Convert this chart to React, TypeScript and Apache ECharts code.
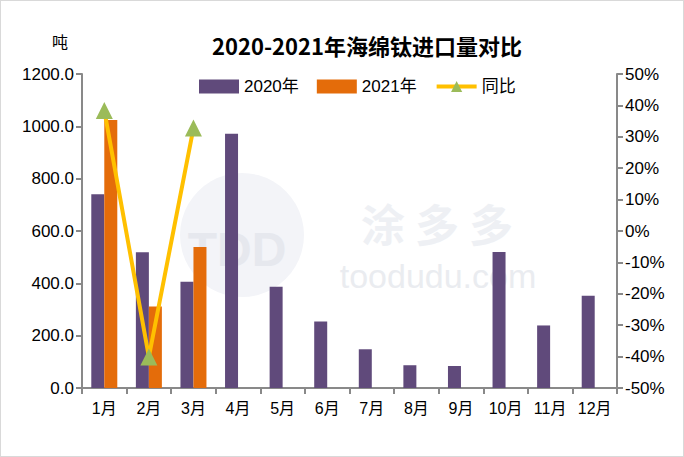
import React, { useEffect, useRef } from "react";
import * as echarts from "echarts";

const categories = ["1月", "2月", "3月", "4月", "5月", "6月", "7月", "8月", "9月", "10月", "11月", "12月"];
const values2020 = [740, 519, 406, 972, 387, 254, 148, 87, 84, 520, 239, 353];
const values2021: (number | null)[] = [1024, 311, 539, null, null, null, null, null, null, null, null, null];
const yoy: (number | null)[] = [38.4, -40.1, 32.8, null, null, null, null, null, null, null, null, null];
const leftTicks = { min: 0, max: 1200, interval: 200 };
const rightTicks = { min: -50, max: 50, interval: 10 };

const FONT = "'Liberation Sans Narrow', 'Liberation Sans', 'Noto Sans CJK SC', sans-serif";

export default function App() {
  const ref = useRef<HTMLDivElement>(null);
  useEffect(() => {
    document.body.style.margin = "0";
    const chart = echarts.init(ref.current!, null, { renderer: "svg" });
    const axisLine = { show: true, lineStyle: { color: "#898989", width: 2 } };
    chart.setOption({
      animation: false,
      backgroundColor: "#ffffff",
      textStyle: { fontFamily: FONT },
      graphic: [
        { type: "circle", z: -10, shape: { cx: 241, cy: 234, r: 62 }, style: { fill: "#f3f4f8" } },
        { type: "text", z: -9, x: 236, y: 248, style: { text: "TDD", fill: "#e6e8ee", font: "bold 48px 'Liberation Sans', sans-serif", textAlign: "center", textVerticalAlign: "middle" } },
        { type: "text", z: -9, x: 436, y: 222, style: { text: "涂 多 多", fill: "#eef0f4", font: "bold 44px 'Noto Sans CJK SC', sans-serif", textAlign: "center", textVerticalAlign: "middle" } },
        { type: "text", z: -9, x: 437, y: 275, style: { text: "toodudu.com", fill: "#eaecf0", font: "34px 'Liberation Sans', sans-serif", textAlign: "center", textVerticalAlign: "middle" } },
        { type: "text", x: 366, y: 44, style: { text: "2020-2021年海绵钛进口量对比", fill: "#000", font: "bold 22px 'Noto Sans CJK SC', sans-serif", textAlign: "center", textVerticalAlign: "middle" } },
        { type: "text", x: 59, y: 40, style: { text: "吨", fill: "#000", font: "16px 'Noto Sans CJK SC', sans-serif", textAlign: "center", textVerticalAlign: "middle" } },
      ],
      legend: {
        top: 72,
        left: 193,
        itemWidth: 40,
        itemHeight: 14,
        itemGap: 18,
        textStyle: { fontSize: 17, color: "#000", fontFamily: FONT },
        data: [
          { name: "2020年", icon: "rect" },
          { name: "2021年", icon: "rect" },
          { name: "同比", lineStyle: { width: 4, color: "#FFC000" } },
        ],
      },
      grid: { left: 81, right: 66, top: 73, bottom: 68, containLabel: false },
      xAxis: {
        type: "category",
        data: categories,
        axisLine,
        axisTick: { show: true, length: 6, lineStyle: { color: "#898989", width: 2 } },
        axisLabel: { fontSize: 16, color: "#000", margin: 12, fontFamily: FONT },
      },
      yAxis: [
        {
          type: "value",
          ...leftTicks,
          axisLine,
          axisTick: { show: true, length: 6, lineStyle: { color: "#898989", width: 2 } },
          splitLine: { show: false },
          axisLabel: { fontSize: 17, color: "#000", margin: 8, fontFamily: FONT, formatter: (v: number) => v.toFixed(1) },
        },
        {
          type: "value",
          ...rightTicks,
          position: "right",
          axisLine,
          axisTick: { show: true, length: 6, lineStyle: { color: "#898989", width: 2 } },
          splitLine: { show: false },
          axisLabel: { fontSize: 17, color: "#000", margin: 8, fontFamily: FONT, formatter: (v: number) => `${v}%` },
        },
      ],
      series: [
        { name: "2020年", type: "bar", data: values2020, barWidth: 13, barGap: "0%", itemStyle: { color: "#604A7B" }, z: 2 },
        { name: "2021年", type: "bar", data: values2021, barWidth: 13, barGap: "0%", itemStyle: { color: "#E46C0A" }, z: 2 },
        {
          name: "同比",
          type: "line",
          yAxisIndex: 1,
          data: yoy,
          symbol: "triangle",
          symbolSize: 17,
          lineStyle: { color: "#FFC000", width: 4 },
          itemStyle: { color: "#9BBB59" },
          z: 5,
        },
      ],
    });
    return () => chart.dispose();
  }, []);
  return (
    <div
      ref={ref}
      style={{ position: "fixed", left: 0, top: 0, width: 684, height: 457, boxSizing: "border-box", border: "1px solid #d9d9d9" }}
    />
  );
}
